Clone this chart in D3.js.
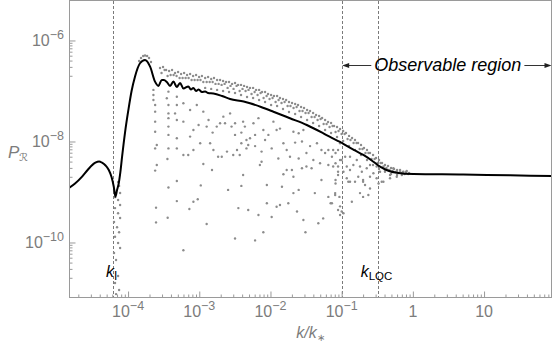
<!DOCTYPE html>
<html>
<head>
<meta charset="utf-8">
<script src="https://cdn.jsdelivr.net/npm/d3@7"></script>
<style>
  body { margin: 0; background: #fff; }
  text { font-family: "Liberation Sans", Arial, sans-serif; }
</style>
</head>
<body>
<script>
// black curve, [k/k*, P_R]
const curve = [[1.48e-5,1.20e-9],[1.80e-5,1.47e-9],[2.26e-5,2.01e-9],[2.74e-5,2.79e-9],[3.47e-5,3.80e-9],[3.92e-5,4.02e-9],
  [4.31e-5,3.80e-9],[4.83e-5,3.35e-9],[5.36e-5,2.73e-9],[5.86e-5,1.98e-9],[6.30e-5,1.27e-9],[6.64e-5,8.07e-10],[7.0e-5,1.1e-9],
  [7.40e-5,1.49e-9],[7.8e-5,2.49e-9],[8.24e-5,5.0e-9],[9.08e-5,1.54e-8],[1.01e-4,4.21e-8],[1.12e-4,1.0e-7],[1.25e-4,1.92e-7],
  [1.47e-4,3.54e-7],[1.73e-4,4.11e-7],[2.04e-4,3.03e-7],[2.39e-4,1.53e-7],[2.67e-4,1.26e-7],[2.97e-4,1.65e-7],[3.18e-4,1.65e-7],
  [3.50e-4,1.51e-7],[3.89e-4,1.26e-7],[4.33e-4,1.54e-7],[4.83e-4,1.20e-7],[5.37e-4,1.44e-7],[5.98e-4,1.12e-7],[7.03e-4,1.23e-7],
  [7.62e-4,1.07e-7],[8.26e-4,1.15e-7],[9.02e-4,1.0e-7],[9.8e-4,1.07e-7],[1.09e-3,9.55e-8],[1.21e-3,9.8e-8],[1.33e-3,9.12e-8],
  [1.58e-3,8.91e-8],[2.09e-3,7.96e-8],[2.71e-3,6.95e-8],[4.21e-3,6.19e-8],[5.16e-3,5.70e-8],[7.38e-3,4.82e-8],[1.10e-2,3.89e-8],
  [1.88e-2,2.88e-8],[3.24e-2,2.12e-8],[5.53e-2,1.45e-8],[6.87e-2,1.23e-8],[9.5e-2,9.77e-9],[0.118,8.15e-9],[0.154,6.64e-9],
  [0.202,5.41e-9],[0.279,3.98e-9],[0.346,3.17e-9],[0.453,2.64e-9],[0.594,2.41e-9],[1.02,2.27e-9],[5.07,2.22e-9],[23.2,2.14e-9],[90,2.07e-9]]

// gray points: upper edge of the dense band
const bandTop = [[2.81e-4,2.85e-7],[3.10e-4,2.99e-7],[3.42e-4,2.61e-7],[3.77e-4,2.49e-7],[4.15e-4,2.61e-7],[4.57e-4,2.27e-7],
  [5.04e-4,2.38e-7],[5.55e-4,2.17e-7],[6.12e-4,2.27e-7],[6.74e-4,2.07e-7],[7.43e-4,2.17e-7],[8.19e-4,1.98e-7],[9.02e-4,2.07e-7],
  [9.94e-4,1.89e-7],[1.09e-3,1.98e-7],[1.21e-3,1.81e-7],[1.33e-3,1.89e-7],[1.47e-3,1.73e-7],[1.61e-3,1.81e-7],[1.78e-3,1.65e-7],
  [1.96e-3,1.65e-7],[2.16e-3,1.58e-7],[2.38e-3,1.51e-7],[2.62e-3,1.51e-7],[2.89e-3,1.38e-7],[3.18e-3,1.44e-7],[3.51e-3,1.32e-7],
  [3.86e-3,1.32e-7],[4.26e-3,1.26e-7],[4.69e-3,1.20e-7],[5.16e-3,1.15e-7],[5.70e-3,1.15e-7],[6.28e-3,1.05e-7],[6.92e-3,1.05e-7],
  [7.62e-3,9.55e-8],[8.40e-3,9.55e-8],[9.25e-3,8.72e-8],[1.02e-2,8.33e-8],[1.12e-2,7.96e-8],[1.24e-2,7.96e-8],[1.36e-2,7.26e-8],
  [1.50e-2,6.95e-8],[1.66e-2,6.64e-8],[1.82e-2,6.05e-8],[2.01e-2,5.78e-8],[2.22e-2,5.53e-8],[2.44e-2,5.28e-8],[2.69e-2,4.82e-8],
  [2.96e-2,4.61e-8],[3.27e-2,4.21e-8],[3.60e-2,4.02e-8],[3.97e-2,3.67e-8],[4.37e-2,3.35e-8],[4.82e-2,3.20e-8],[5.31e-2,2.92e-8],
  [5.85e-2,2.67e-8],[6.44e-2,2.43e-8],[7.10e-2,2.32e-8],[7.82e-2,2.03e-8],[8.61e-2,1.94e-8],[9.50e-2,1.77e-8],[0.105,1.61e-8],
  [0.115,1.47e-8],[0.127,1.29e-8],[0.140,1.17e-8],[0.154,1.07e-8],[0.170,9.34e-9],[0.187,8.53e-9],[0.206,7.43e-9],[0.227,6.79e-9],
  [0.250,5.92e-9],[0.276,5.40e-9],[0.304,4.71e-9],[0.335,4.30e-9],[0.369,3.75e-9],[0.406,3.42e-9],[0.448,3.27e-9],[0.494,2.99e-9],
  [0.544,2.85e-9],[0.600,2.73e-9],[0.661,2.61e-9],[0.728,2.49e-9],[0.802,2.49e-9],[0.885,2.38e-9]]

const bandMid = [[2.95e-4,2.27e-7],[3.26e-4,2.61e-7],[3.59e-4,1.98e-7],[3.96e-4,2.07e-7],[4.36e-4,2.07e-7],[4.80e-4,1.98e-7],
  [5.29e-4,1.81e-7],[5.83e-4,1.81e-7],[6.43e-4,1.81e-7],[7.08e-4,1.81e-7],[7.80e-4,1.65e-7],[8.60e-4,1.65e-7],[9.47e-4,1.65e-7],
  [1.04e-3,1.65e-7],[1.14e-3,1.51e-7],[1.27e-3,1.51e-7],[1.40e-3,1.51e-7],[1.54e-3,1.51e-7],[1.69e-3,1.38e-7],[1.87e-3,1.38e-7],
  [2.06e-3,1.32e-7],[2.27e-3,1.38e-7],[2.50e-3,1.15e-7],[2.75e-3,1.26e-7],[3.03e-3,1.10e-7],[3.34e-3,1.26e-7],[3.69e-3,1.00e-7],
  [4.05e-3,1.10e-7],[4.47e-3,1.00e-7],[4.92e-3,1.05e-7],[5.42e-3,8.72e-8],[5.99e-3,9.55e-8],[6.59e-3,8.33e-8],[7.27e-3,9.12e-8],
  [8.00e-3,7.26e-8],[8.82e-3,7.96e-8],[9.71e-3,6.95e-8],[1.07e-2,7.26e-8],[1.18e-2,6.05e-8],[1.30e-2,6.64e-8],[1.43e-2,5.78e-8],
  [1.58e-2,6.05e-8],[1.74e-2,5.05e-8],[1.91e-2,5.05e-8],[2.11e-2,4.61e-8],[2.33e-2,4.82e-8],[2.56e-2,4.02e-8],[2.82e-2,4.02e-8],
  [3.11e-2,3.67e-8],[3.43e-2,3.67e-8],[3.78e-2,3.06e-8],[4.17e-2,3.06e-8],[4.59e-2,2.67e-8],[5.06e-2,2.79e-8],[5.58e-2,2.22e-8],
  [6.14e-2,2.22e-8],[6.76e-2,1.94e-8],[7.46e-2,2.03e-8],[8.21e-2,1.54e-8],[9.04e-2,1.61e-8],[9.98e-2,1.41e-8],[0.110,1.41e-8],
  [0.121,1.12e-8],[0.133,1.07e-8],[0.147,9.34e-9],[0.162,9.34e-9],[0.179,7.10e-9],[0.196,7.10e-9],[0.216,5.92e-9],[0.238,5.92e-9],
  [0.263,4.50e-9],[0.290,4.50e-9],[0.319,3.75e-9],[0.352,3.75e-9],[0.387,2.99e-9],[0.426,2.99e-9],[0.470,2.73e-9],[0.519,2.61e-9],
  [0.571,2.49e-9],[0.630,2.38e-9],[0.694,2.38e-9],[0.764,2.27e-9]]

const bandLow = [[1.21e-3,1.15e-7],[1.47e-3,1.10e-7],[1.78e-3,1.05e-7],[2.16e-3,1.00e-7],[2.62e-3,9.55e-8],[3.18e-3,9.12e-8],
  [3.86e-3,8.33e-8],[4.69e-3,7.60e-8],[5.70e-3,7.26e-8],[6.92e-3,6.64e-8],[8.40e-3,6.05e-8],[1.02e-2,5.28e-8],[1.24e-2,5.05e-8],
  [1.50e-2,4.40e-8],[1.82e-2,3.84e-8],[2.22e-2,3.51e-8],[2.69e-2,3.06e-8],[3.27e-2,2.67e-8],[3.97e-2,2.32e-8],[4.82e-2,2.03e-8],
  [5.85e-2,1.69e-8],[7.10e-2,1.47e-8],[8.61e-2,1.23e-8],[0.105,1.02e-8],[0.127,8.15e-9],[0.154,6.79e-9],[0.187,5.40e-9],
  [0.227,4.30e-9],[0.276,3.42e-9],[0.335,2.85e-9],[0.406,2.61e-9],[0.494,2.27e-9],[0.600,2.17e-9]]

// scattered points below the band
const scatterA = [[2.27e-4,1.05e-7],[2.27e-4,8.33e-8],[2.27e-4,6.64e-8],[2.40e-4,5.28e-8],[2.40e-4,3.9e-8],[2.40e-4,2.47e-8],
  [2.40e-4,1.56e-8],[2.53e-4,8.53e-9],[2.40e-4,7.3e-9],[2.53e-4,3.42e-9],[2.40e-4,2.65e-9],[2.47e-4,4.9e-10],[2.47e-4,2.5e-10],
  [3.69e-4,9.7e-8],[3.50e-4,7.2e-8],[3.69e-4,5.28e-8],[3.69e-4,3.6e-8],[3.69e-4,2.9e-8],[3.69e-4,1.97e-8],[3.69e-4,1.35e-8],
  [3.69e-4,7.3e-9],[3.57e-4,4.5e-9],[3.69e-4,1.23e-9],[3.6e-4,3.1e-10],[4.84e-4,7.7e-8],[4.84e-4,5.28e-8],[4.57e-4,3.6e-8],
  [4.84e-4,2.67e-8],[4.84e-4,1.16e-8],[4.84e-4,7.3e-9],[4.84e-4,1.65e-9],[4.84e-4,6.6e-10],[5.98e-4,5.7e-8],[5.98e-4,2.47e-8],
  [5.98e-4,5.4e-9],[7.0e-4,5.4e-9],[5.98e-4,7.0e-11],[7.43e-4,4.21e-8],[7.43e-4,1.25e-8],[8.27e-4,1.69e-8],[8.27e-4,6.79e-9],
  [8.27e-4,6.4e-10],[7.26e-4,4.6e-10],[9.52e-4,7.2e-10],[9.23e-4,5.28e-8],[9.78e-4,2.12e-8],[1.03e-3,9.2e-9],[1.14e-3,3.58e-9],
  [1.05e-3,1.35e-9],[1.27e-3,2.32e-10],[1.14e-3,3.9e-8],[1.35e-3,2.67e-8],[1.27e-3,1.97e-8],[1.42e-3,9.2e-9],[1.54e-3,1.5e-8],
  [1.51e-3,2.73e-9],[1.58e-3,6.79e-9],[1.76e-3,1.97e-8],[1.96e-3,2.3e-8],[1.84e-3,5.0e-9],[2.07e-3,5.0e-9],[2.18e-3,3.1e-8],
  [2.3e-3,2.3e-8],[2.45e-3,6.3e-9],[2.54e-3,1.1e-9],[2.71e-3,3.6e-8],[2.84e-3,1.97e-8],[3.18e-3,1.35e-8],[3.18e-3,2.3e-8],
  [3.0e-3,5.4e-9],[3.39e-3,6.79e-9],[3.7e-3,5.4e-9],[3.9e-3,9.2e-9],[4.13e-3,2.17e-9],[3.9e-3,1.32e-9],[3.54e-3,4.8e-10],
  [3.18e-3,1.2e-10],[4.6e-3,1.07e-8],[4.87e-3,8.53e-9],[4.6e-3,7.3e-9],[4.87e-3,4.4e-10]]

const scatterB = [[4.13e-3,2.47e-8],[4.37e-3,1.97e-8],[3.9e-3,1.5e-8],[6.08e-3,1.1e-10],[6.78e-3,3.51e-10],[7.94e-3,1.6e-10],
  [5.16e-3,1.16e-8],[6.08e-3,8.1e-9],[7.5e-3,6.3e-9],[6.08e-3,1.35e-8],[5.77e-3,2.3e-8],[6.78e-3,2.9e-8],[7.94e-3,1.69e-8],
  [8.40e-3,1.07e-8],[9.35e-3,1.35e-8],[1.04e-2,7.3e-9],[7.5e-3,3.98e-9],[7.1e-3,3.42e-9],[8.9e-3,1.38e-9],[1.04e-2,3.2e-10],
  [8.9e-3,6.0e-10],[1.1e-2,2.47e-8],[1.22e-2,1.69e-8],[1.36e-2,1.8e-8],[1.52e-2,9.2e-9],[1.29e-2,4.6e-9],[1.45e-2,1.27e-9],
  [1.22e-2,5.1e-10],[1.69e-2,6.79e-9],[1.88e-2,5.0e-9],[2.0e-2,2.73e-9],[1.69e-2,2.73e-9],[1.52e-2,2.25e-9],[2.22e-2,9.5e-9],
  [2.1e-2,1.56e-8],[2.49e-2,1.46e-8],[2.9e-2,1.69e-8],[2.77e-2,1.0e-8],[2.49e-2,4.6e-9],[2.77e-2,2.95e-9],[3.2e-2,3.2e-9],
  [3.78e-2,2.95e-9],[4.0e-2,4.3e-9],[3.2e-2,5.9e-9],[3.6e-2,8.1e-9],[4.5e-2,9.2e-9],[5.2e-2,6.79e-9],[4.97e-2,3.7e-9],
  [5.85e-2,5.9e-9],[6.5e-2,6.79e-9],[7.3e-2,5.0e-9],[6.5e-2,3.42e-9],[7.6e-2,3.2e-9],[8.9e-2,3.2e-9],[8.9e-2,2.17e-9],
  [9.5e-2,4.3e-9],[2.1e-2,9.5e-10],[2.49e-2,1.1e-9],[4.2e-2,9.5e-10],[5.2e-2,1.73e-9],[6.5e-2,8.0e-10],[7.0e-2,6.0e-10],
  [8.1e-2,8.7e-10],[8.9e-2,4.4e-10],[9.5e-2,3.5e-10],[5.5e-2,3.0e-10],[4.7e-2,2.4e-10],[2.9e-2,2.79e-10],[3.1e-2,1.6e-10],
  [2.36e-2,4.1e-10],[1.78e-2,6.0e-10],[1.36e-2,5.53e-10],[2.1e-2,2.0e-9],[8.9e-2,6.79e-9],[8.2e-2,5.9e-9],[9.5e-2,9.2e-9],
  [8.9e-2,2.52e-9],[8.2e-2,1.73e-9],[9.3e-2,8.0e-10],[9.5e-2,5.2e-10]]

const scatterC = [[7.6e-2,6.79e-9],[8.2e-2,3.7e-9],[0.1,4.3e-9],[0.112,5.0e-9],[0.118,3.2e-9],[0.106,2.52e-9],[0.131,2.73e-9],
  [0.124,1.6e-9],[0.154,1.6e-9],[0.171,2.0e-9],[0.192,2.52e-9],[0.2,1.73e-9],[0.213,1.38e-9],[0.25,2.0e-9],[0.279,2.35e-9],
  [0.31,1.87e-9],[0.346,2.52e-9],[0.365,1.6e-9],[0.406,2.52e-9],[0.45,2.73e-9],[0.478,2.17e-9],[0.146,3.42e-9],[0.163,4.3e-9],
  [0.131,5.0e-9],[0.181,3.2e-9],[0.225,2.95e-9],[0.25,3.42e-9],[0.31,3.2e-9],[0.386,3.2e-9],[0.532,2.95e-9],[0.594,2.52e-9],
  [0.661,2.73e-9],[0.735,2.52e-9],[0.82,2.6e-9],[8.1e-2,9.5e-10],[7.3e-2,6.0e-10],[0.1,4.1e-10],[0.106,3.8e-10],[0.139,6.4e-10],
  [0.181,9.5e-10],[0.2,8.0e-10],[0.237,8.7e-10],[0.25,1.17e-9],[0.33,1.47e-9],[0.386,1.6e-9],[0.478,1.87e-9],[0.594,2.0e-9],
  [0.70,2.17e-9],[0.86,2.27e-9],[0.2,1.6e-9],[0.131,1.6e-9],[0.118,1.87e-9],[8.2e-2,1.47e-9]]

// column of points under the first dip, and around the main peak
const kIColumn = [[7.24e-5,1.58e-9],[7.48e-5,1.32e-9],[6.35e-5,1.1e-9],[7.73e-5,9.55e-10],[6.56e-5,7.9e-10],[7.24e-5,6.95e-10],
  [7.73e-5,5.53e-10],[6.56e-5,4.8e-10],[7.24e-5,3.8e-10],[7.73e-5,3.06e-10],[6.35e-5,2.55e-10],[7.0e-5,2.0e-10],[7.48e-5,1.6e-10],
  [6.56e-5,1.3e-10],[7.24e-5,9.8e-11],[7.73e-5,7.8e-11],[6.35e-5,6.2e-11],[6.78e-5,4.5e-11],[7.24e-5,2.17e-11],[6.56e-5,1.58e-11],
  [7.48e-5,1.15e-11],[6.78e-5,9.5e-12]]
const peakDots = [[1.43e-4,3.93e-7],[1.52e-4,4.5e-7],[1.63e-4,4.93e-7],[1.73e-4,5.05e-7],[1.85e-4,4.93e-7],[1.97e-4,4.5e-7],[2.1e-4,3.75e-7]]

const xMajor = [1e-4, 1e-3, 1e-2, 1e-1, 1, 10]
const xLabels = [['10','\u22124'],['10','\u22123'],['10','\u22122'],['10','\u22121'],['1',''],['10','']]
const xMinor = [2e-5,3e-5,4e-5,5e-5,6e-5,7e-5,8e-5,9e-5, 2e-4,3e-4,4e-4,5e-4,6e-4,7e-4,8e-4,9e-4,
  2e-3,3e-3,4e-3,5e-3,6e-3,7e-3,8e-3,9e-3, 2e-2,3e-2,4e-2,5e-2,6e-2,7e-2,8e-2,9e-2,
  0.2,0.3,0.4,0.5,0.6,0.7,0.8,0.9, 2,3,4,5,6,7,8,9, 20,30,40,50,60,70,80]
const yMajor = [1e-6, 1e-8, 1e-10]
const yLabels = [['10','\u22126'],['10','\u22128'],['10','\u221210']]
const yMinor = [2e-7,3e-7,4e-7,5e-7,6e-7,7e-7,8e-7,9e-7, 2e-9,3e-9,4e-9,5e-9,6e-9,7e-9,8e-9,9e-9,
  2e-11,3e-11,4e-11,5e-11,6e-11,7e-11,8e-11,9e-11]

const kMarks = [6.15e-5, 0.1, 0.321]   // k_I, start of observable region, k_LQC

const W = 554, H = 346
const plotL = 69, plotR = 552, plotT = 1, plotB = 298
const frameColor = '#9a9a9a', labelColor = '#7c7c7c'

const svg = d3.select('body').append('svg')
    .attr('width', W)
    .attr('height', H)

const x = d3.scaleLog().domain([1.48e-5, 90]).range([plotL, plotR])
const y = d3.scaleLog().domain([7.96e-12, 6.05e-6]).range([plotB, plotT])

svg.append('defs').append('clipPath').attr('id', 'plot')
    .append('rect').attr('x', plotL).attr('y', plotT).attr('width', plotR - plotL).attr('height', plotB - plotT)

// dashed guide lines
svg.append('g').selectAll('line')
    .data(kMarks)
    .enter().append('line')
    .attr('x1', d => Math.round(x(d)) + 0.5).attr('x2', d => Math.round(x(d)) + 0.5)
    .attr('y1', plotT).attr('y2', plotB)
    .attr('stroke', '#7a7a7a')
    .attr('stroke-width', 1)
    .attr('stroke-dasharray', '3,2')

// gray points
const allDots = [].concat(bandTop, bandMid, bandLow, scatterA, scatterB, scatterC, kIColumn, peakDots)
svg.append('g').attr('clip-path', 'url(#plot)')
    .selectAll('circle')
    .data(allDots)
    .enter().append('circle')
    .attr('cx', d => x(d[0]))
    .attr('cy', d => y(d[1]))
    .attr('r', 1.2)
    .attr('fill', '#8c8c8c')

// black curve
const line = d3.line()
    .x(d => x(d[0]))
    .y(d => y(d[1]))
    .curve(d3.curveMonotoneX)
svg.append('path')
    .datum(curve)
    .attr('clip-path', 'url(#plot)')
    .attr('d', line)
    .attr('fill', 'none')
    .attr('stroke', '#000')
    .attr('stroke-width', 2)

// frame
svg.append('rect')
    .attr('x', plotL + 0.5).attr('y', plotT - 0.5)
    .attr('width', plotR - plotL - 1).attr('height', plotB - plotT)
    .attr('fill', 'none')
    .attr('stroke', frameColor)

// ticks (inward)
function tickAxis(axis, vals, size, tx, ty){
    svg.append('g')
        .attr('transform', `translate(${tx},${ty})`)
        .attr('color', frameColor)
        .call(axis.tickValues(vals).tickSize(-size).tickFormat(''))
        .call(g => g.select('.domain').remove())
}
tickAxis(d3.axisBottom(x), xMajor, 6, 0, plotB - 0.5)
tickAxis(d3.axisBottom(x), xMinor, 3, 0, plotB - 0.5)
tickAxis(d3.axisLeft(y), yMajor, 6, plotL + 0.5, 0)
tickAxis(d3.axisLeft(y), yMinor, 3, plotL + 0.5, 0)

// tick labels
xMajor.forEach(function(v, i){
    const t = svg.append('text')
        .attr('x', x(v)).attr('y', 317)
        .attr('text-anchor', 'middle')
        .attr('fill', labelColor)
        .attr('font-size', 16)
    t.append('tspan').text(xLabels[i][0])
    if(xLabels[i][1]) t.append('tspan').attr('dy', -7).attr('font-size', 12.5).text(xLabels[i][1])
})
yMajor.forEach(function(v, i){
    const t = svg.append('text')
        .attr('x', 64).attr('y', y(v) + 5.5)
        .attr('text-anchor', 'end')
        .attr('fill', labelColor)
        .attr('font-size', 16)
    t.append('tspan').text(yLabels[i][0])
    t.append('tspan').attr('dy', -7).attr('font-size', 12.5).text(yLabels[i][1])
})

// axis titles
const yTitle = svg.append('text').attr('x', 8).attr('y', 158).attr('fill', labelColor).attr('font-size', 17)
yTitle.append('tspan').attr('font-style', 'italic').text('P')
yTitle.append('tspan').attr('font-size', 11).attr('dy', 3).attr('font-family', 'DejaVu Sans').text('\u211B')

const xTitle = svg.append('text').attr('x', (plotL + plotR) / 2).attr('y', 338)
    .attr('text-anchor', 'middle').attr('fill', labelColor).attr('font-size', 16)
xTitle.append('tspan').attr('font-style', 'italic').text('k/k')
xTitle.append('tspan').attr('font-size', 10).attr('dy', 3).text('\u2217')

// k_I and k_LQC labels
const kI = svg.append('text').attr('x', x(kMarks[0]) - 7).attr('y', 277).attr('font-size', 16).attr('fill', '#000')
kI.append('tspan').attr('font-style', 'italic').text('k')
kI.append('tspan').attr('font-size', 12).attr('dy', 3).text('I')
const kL = svg.append('text').attr('x', x(kMarks[2]) - 17).attr('y', 277).attr('font-size', 16).attr('fill', '#000')
kL.append('tspan').attr('font-style', 'italic').text('k')
kL.append('tspan').attr('font-size', 11.5).attr('dy', 3).text('LQC')

// observable region
const arrowY = 65.5
const obs = svg.append('text')
    .attr('x', (x(kMarks[1]) + plotR) / 2 + 1)
    .attr('y', 71)
    .attr('text-anchor', 'middle')
    .attr('font-size', 18)
    .attr('font-style', 'italic')
    .attr('fill', '#000')
    .text('Observable region')
const bb = obs.node().getBBox()
const x0 = x(kMarks[1]) + 0.5
svg.append('line').attr('x1', x0 + 5).attr('x2', bb.x - 3).attr('y1', arrowY).attr('y2', arrowY)
    .attr('stroke', '#333').attr('stroke-width', 1)
svg.append('line').attr('x1', bb.x + bb.width + 3).attr('x2', plotR - 5).attr('y1', arrowY).attr('y2', arrowY)
    .attr('stroke', '#333').attr('stroke-width', 1)
svg.append('path')
    .attr('d', `M${x0},${arrowY} l7,-2.5 v5 Z M${plotR - 0.5},${arrowY} l-7,-2.5 v5 Z`)
    .attr('fill', '#222')
</script>
</body>
</html>
